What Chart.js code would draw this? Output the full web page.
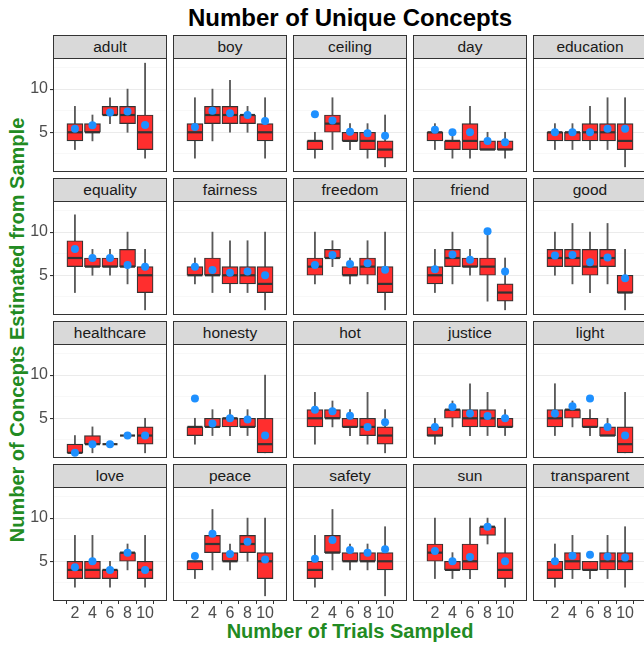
<!DOCTYPE html>
<html>
<head>
<meta charset="utf-8">
<script src="https://cdn.jsdelivr.net/npm/chart.js@4/dist/chart.umd.min.js"></script>
<style>
  body { margin: 0; background: #fff; font-family: "Liberation Sans", Arial, sans-serif; }
  #wrap { position: relative; width: 644px; height: 645px; overflow: hidden; }
  .strip { position: absolute; box-sizing: border-box; background: #d9d9d9; border: 1px solid #333;
           text-align: center; font-size: 15.5px; line-height: 21px; color: #1a1a1a; }
  .facet { position: absolute; }
  .title { position: absolute; white-space: nowrap; font-weight: bold; }
</style>
</head>
<body>
<div id="wrap">
  <div class="title" style="left:350px; top:18px; transform:translate(-50%,-50%); font-size:24px; color:#000;">Number of Unique Concepts</div>
  <div class="title" style="left:17px; top:330px; transform:translate(-50%,-50%) rotate(-90deg); font-size:20px; color:#228b22;">Number of Concepts Estimated from Sample</div>
  <div class="title" style="left:350px; top:631px; transform:translate(-50%,-50%); font-size:20px; color:#228b22;">Number of Trials Sampled</div>
</div>
<script>
// values
const trials = ["2", "4", "6", "8", "10"];
const concepts = ["adult", "boy", "ceiling", "day", "education",
  "equality", "fairness", "freedom", "friend", "good",
  "healthcare", "honesty", "hot", "justice", "light",
  "love", "peace", "safety", "sun", "transparent"];
const yTicks = [5, 10];
const yMinor = [2.5, 7.5, 12.5];

const mins = [
  [3, 4, 6, 5, 2], [2, 4, 5, 5, 2], [2, 3, 3, 2, 1], [3, 2, 2, 3, 2], [3, 3, 3, 3, 1],
  [3, 5, 5, 4, 1], [4, 3, 3, 3, 1], [4, 6, 4, 4, 1], [3, 4, 5, 2, 1], [5, 4, 3, 4, 1],
  [1, 1, 2, 3, 1], [2, 3, 3, 3, 1], [2, 4, 3, 2, 1], [2, 4, 3, 3, 3], [3, 4, 3, 3, 1],
  [2, 3, 2, 4, 2], [3, 4, 4, 5, 1], [2, 4, 4, 4, 1], [3, 3, 3, 7, 2], [2, 3, 3, 3, 2],
];
const q1s = [
  [4, 5, 7, 6, 3], [4, 6, 6, 6, 4], [3, 5, 4, 3, 2], [4, 3, 3, 3, 3], [4, 4, 4, 4, 3],
  [6, 6, 6, 6, 3], [5, 5, 4, 4, 3], [5, 7, 5, 5, 3], [4, 6, 6, 5, 2], [6, 6, 5, 6, 3],
  [1, 2, 2, 3, 2], [3, 4, 4, 4, 1], [4, 5, 4, 3, 2], [3, 5, 4, 4, 4], [4, 5, 4, 3, 1],
  [3, 3, 3, 5, 3], [4, 6, 5, 6, 3], [3, 6, 5, 5, 4], [5, 4, 4, 8, 3], [3, 4, 4, 4, 4],
];
const medians = [
  [5, 5, 7, 7, 5], [5, 7, 7, 7, 5], [4, 6, 4, 4, 3], [5, 4, 4, 3, 3], [5, 5, 5, 5, 4],
  [7, 6, 6, 6, 5], [5, 5, 5, 5, 4], [6, 7, 5, 6, 4], [5, 7, 6, 6, 3], [7, 7, 6, 7, 3],
  [1, 2, 2, 3, 3], [4, 4, 5, 4, 2], [5, 5, 4, 4, 3], [3, 6, 5, 5, 4], [5, 6, 4, 3, 2],
  [4, 4, 4, 6, 4], [5, 7, 5, 7, 5], [4, 6, 5, 5, 5], [6, 4, 5, 9, 4], [4, 5, 4, 5, 5],
];
const q3s = [
  [6, 6, 8, 8, 7], [6, 8, 8, 7, 6], [4, 7, 5, 5, 4], [5, 4, 6, 4, 4], [5, 5, 6, 6, 6],
  [9, 7, 7, 8, 6], [6, 7, 6, 6, 6], [7, 8, 6, 7, 6], [6, 8, 7, 7, 4], [8, 8, 8, 8, 5],
  [2, 3, 2, 3, 4], [4, 5, 5, 5, 5], [6, 6, 5, 5, 4], [4, 6, 6, 6, 5], [6, 6, 5, 4, 4],
  [5, 5, 4, 6, 5], [5, 8, 6, 8, 6], [5, 8, 6, 6, 6], [7, 5, 7, 9, 6], [5, 6, 5, 6, 6],
];
const maxs = [
  [8, 7, 9, 10, 13], [9, 10, 11, 8, 9], [5, 9, 6, 6, 7], [6, 5, 8, 5, 5], [6, 6, 8, 9, 9],
  [12, 8, 8, 10, 8], [7, 10, 9, 9, 10], [10, 9, 7, 9, 10], [8, 10, 8, 10, 7], [10, 11, 10, 11, 8],
  [3, 4, 2, 3, 5], [5, 6, 6, 6, 10], [8, 7, 6, 8, 6], [5, 7, 9, 8, 6], [9, 7, 6, 5, 8],
  [8, 8, 5, 7, 8], [5, 11, 7, 10, 10], [8, 11, 7, 7, 9], [10, 6, 10, 10, 10], [7, 8, 5, 8, 9],
];
const means = [
  [5.4, 5.8, 7.3, 7.4, 5.85], [5.6, 7.5, 7.2, 7.0, 6.3], [7.1, 6.35, 5.05, 4.9, 4.6],
  [5.3, 5.0, 5.0, 4.0, 3.85], [5.0, 5.0, 5.0, 5.4, 5.4],
  [8.05, 7.0, 7.0, 6.2, 6.0], [6.0, 5.6, 5.3, 5.45, 5.0], [6.2, 7.35, 6.3, 6.4, 5.65],
  [5.7, 7.4, 6.8, 10.1, 5.45], [7.3, 7.35, 6.5, 7.05, 4.65],
  [1.0, 2.0, 2.0, 3.0, 3.0], [7.3, 4.4, 5.0, 4.85, 3.0], [6.0, 5.8, 5.3, 4.0, 4.55],
  [4.0, 6.3, 5.55, 5.25, 5.0], [5.55, 6.4, 7.3, 4.0, 3.0],
  [4.3, 5.0, 4.0, 6.0, 4.0], [5.6, 8.2, 5.85, 7.25, 5.2], [5.3, 7.45, 6.3, 6.0, 6.4],
  [6.2, 5.0, 5.5, 9.0, 5.0], [5.0, 5.65, 5.75, 5.55, 5.45],
];

// layout of the facet grid
const PANEL_X = [53, 173, 293, 413, 533];
const STRIP_Y = [35, 178, 321, 464];
const STRIP_H = 24;
const PANEL_W = 114;
const PANEL_H = 114;
const Y_AXIS_W = 53;
const X_AXIS_H = 28;
const BOX_W = 16;

Chart.defaults.font.family = '"Liberation Sans", Arial, sans-serif';

const panelFrame = {
  id: "panelFrame",
  afterDraw(chart) {
    const { ctx, chartArea: a } = chart;
    ctx.save();
    ctx.strokeStyle = "#333";
    ctx.lineWidth = 1;
    ctx.strokeRect(a.left + 0.5, a.top + 0.5, a.width - 1, a.height - 1);
    ctx.restore();
  },
};

function points(k, fn) {
  return trials.map((t, i) => ({ x: i + 1, y: fn(i) }));
}

function makeFacet(k) {
  const col = k % 5;
  const row = Math.floor(k / 5);
  const isLeft = col === 0;
  const isBottom = row === 3;
  const wrap = document.getElementById("wrap");

  const strip = document.createElement("div");
  strip.className = "strip";
  strip.style.left = PANEL_X[col] + "px";
  strip.style.top = STRIP_Y[row] + "px";
  strip.style.width = PANEL_W + "px";
  strip.style.height = STRIP_H + "px";
  strip.textContent = concepts[k];
  wrap.appendChild(strip);

  const w = PANEL_W + (isLeft ? Y_AXIS_W : 0);
  const h = PANEL_H + (isBottom ? X_AXIS_H : 0);
  const holder = document.createElement("div");
  holder.className = "facet";
  holder.style.left = PANEL_X[col] - (isLeft ? Y_AXIS_W : 0) + "px";
  holder.style.top = STRIP_Y[row] + STRIP_H - 1 + "px";
  const canvas = document.createElement("canvas");
  canvas.width = w;
  canvas.height = h;
  canvas.style.width = w + "px";
  canvas.style.height = h + "px";
  holder.appendChild(canvas);
  wrap.appendChild(holder);

  new Chart(canvas, {
    data: {
      datasets: [
        {
          type: "line",
          data: points(k, (i) => means[k][i]),
          showLine: false,
          pointRadius: 4,
          pointBackgroundColor: "#1e90ff",
          pointBorderWidth: 0,
          order: 1,
        },
        {
          type: "line",
          data: points(k, (i) => medians[k][i]),
          showLine: false,
          pointStyle: "line",
          pointRadius: BOX_W / 2 - 0.5,
          pointBorderColor: "#333",
          pointBorderWidth: 2.2,
          order: 2,
        },
        {
          type: "bar",
          data: points(k, (i) => [q1s[k][i], q3s[k][i]]),
          backgroundColor: "#ff2e2e",
          borderColor: "#333",
          borderWidth: 1.2,
          borderSkipped: false,
          grouped: false,
          barThickness: BOX_W,
          order: 3,
        },
        {
          type: "bar",
          data: points(k, (i) => [mins[k][i], maxs[k][i]]),
          backgroundColor: "#5a5a5a",
          barThickness: 1.2,
          grouped: false,
          order: 4,
        },
      ],
    },
    options: {
      responsive: false,
      animation: false,
      devicePixelRatio: 1,
      layout: { padding: 0, autoPadding: false },
      plugins: { legend: { display: false }, tooltip: { enabled: false }, title: { display: false } },
      scales: {
        x: {
          type: "linear",
          min: 0.4,
          max: 5.6,
          afterBuildTicks: (s) => { s.ticks = trials.map((t, i) => ({ value: i + 1 })); },
          afterFit: (s) => {
            s.height = isBottom ? X_AXIS_H : 0;
            s.paddingLeft = s.paddingRight = s.paddingTop = s.paddingBottom = 0;
          },
          grid: { drawOnChartArea: false, drawTicks: isBottom, tickLength: 3, tickColor: "#333" },
          border: { display: false },
          ticks: {
            display: isBottom,
            callback: (v) => trials[Math.round(v) - 1],
            color: "#4d4d4d",
            font: { size: 16 },
            padding: 0,
            maxRotation: 0,
            autoSkip: false,
          },
        },
        y: {
          type: "linear",
          min: 0.4,
          max: 13.6,
          afterBuildTicks: (s) => {
            s.ticks = yMinor.concat(yTicks).sort((a, b) => a - b).map((v) => ({ value: v }));
          },
          afterFit: (s) => {
            s.width = isLeft ? Y_AXIS_W : 0;
            s.paddingLeft = s.paddingRight = s.paddingTop = s.paddingBottom = 0;
          },
          grid: {
            color: (c) => (yTicks.includes(c.tick.value) ? "#ebebeb" : "#f3f3f3"),
            lineWidth: (c) => (yTicks.includes(c.tick.value) ? 1.1 : 0.6),
            drawTicks: isLeft,
            tickLength: 3,
            tickColor: (c) => (yTicks.includes(c.tick.value) ? "#333" : "rgba(0,0,0,0)"),
          },
          border: { display: false },
          ticks: {
            display: isLeft,
            callback: (v) => (yTicks.includes(v) ? String(v) : ""),
            color: "#4d4d4d",
            font: { size: 16 },
            padding: 2,
          },
        },
      },
    },
    plugins: [panelFrame],
  });
}

concepts.forEach((c, k) => makeFacet(k));
</script>
</body>
</html>
